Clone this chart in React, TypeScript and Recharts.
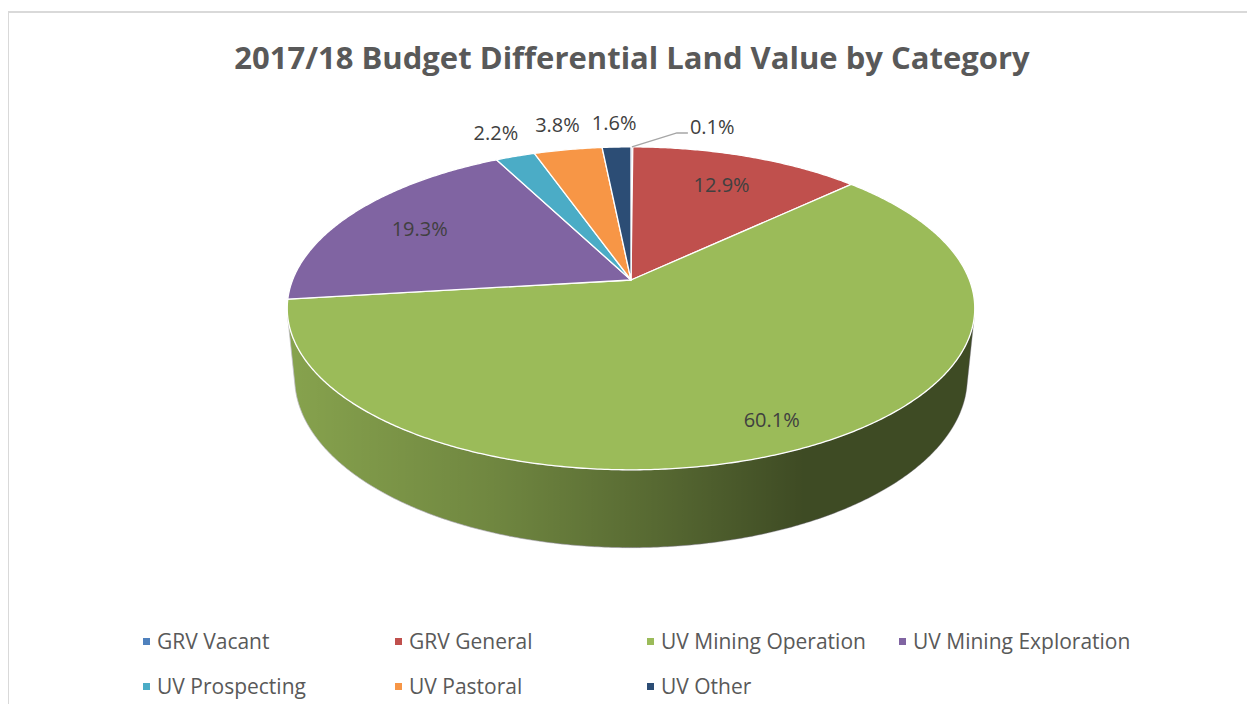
import React from 'react'
import { PieChart, Pie, Cell, Legend } from 'recharts'

const CATEGORIES = [
  'GRV Vacant',
  'GRV General',
  'UV Mining Operation',
  'UV Mining Exploration',
  'UV Prospecting',
  'UV Pastoral',
  'UV Other',
]
const SHARES = [0.1, 12.9, 60.1, 19.3, 2.2, 3.8, 1.6]
const COLORS = ['#4F81BD', '#C0504D', '#9BBB59', '#8064A2', '#4BACC6', '#F79646', '#2C4D75']

const data = CATEGORIES.map((name, i) => ({ name, value: SHARES[i] }))

// perspective "3D pie" projection (tilt ~27deg)
const F = 1709
const D = 5.05
const S = 0.4624
const C = Math.sqrt(1 - S * S)
const H = 0.233

function project(cx: number, cy: number, deg: number, r: number, level: number) {
  const t = (deg * Math.PI) / 180
  const X = r * Math.cos(t)
  const Z = r * Math.sin(t)
  const Y = -H * level
  const yc = Z * S + Y * C
  const zc = D + Z * C - Y * S
  return [cx + (F * X) / zc, cy - (F * yc) / zc]
}

function arcPoints(cx: number, cy: number, a1: number, a2: number, level: number) {
  const n = Math.max(2, Math.ceil(Math.abs(a2 - a1) / 0.5))
  const pts: number[][] = []
  for (let k = 0; k <= n; k++) {
    pts.push(project(cx, cy, a1 + ((a2 - a1) * k) / n, 1, level))
  }
  return pts
}

// side wall faces the viewer where 1 + D*C*sin(t) < 0
const VIS_LIMIT = (Math.asin(-1 / (D * C)) * 180) / Math.PI
const VIS_LO = -180 - VIS_LIMIT
const VIS_HI = VIS_LIMIT

function Slice3D(props: any) {
  const { cx, cy, startAngle, endAngle, fill, index } = props
  const hi = Math.max(startAngle, endAngle)
  const lo = Math.min(startAngle, endAngle)
  const top = arcPoints(cx, cy, startAngle, endAngle, 0)
  const topD =
    `M${cx},${cy} ` + top.map((p) => `L${p[0].toFixed(2)},${p[1].toFixed(2)}`).join(' ') + ' Z'

  let side: React.ReactNode = null
  const sHi = Math.min(hi, VIS_HI)
  const sLo = Math.max(lo, VIS_LO)
  if (sHi > sLo) {
    const up = arcPoints(cx, cy, sHi, sLo, 0)
    const down = arcPoints(cx, cy, sLo, sHi, 1)
    const d =
      up.map((p, k) => `${k === 0 ? 'M' : 'L'}${p[0].toFixed(2)},${p[1].toFixed(2)}`).join(' ') +
      ' ' +
      down.map((p) => `L${p[0].toFixed(2)},${p[1].toFixed(2)}`).join(' ') +
      ' Z'
    const gid = `shade-${index}`
    side = (
      <g>
        <defs>
          <linearGradient id={gid} gradientUnits="userSpaceOnUse" x1={cx - 345} y1={0} x2={cx + 345} y2={0}>
            <stop offset="0" stopColor="#000" stopOpacity={0.13} />
            <stop offset="0.3" stopColor="#000" stopOpacity={0.28} />
            <stop offset="0.55" stopColor="#000" stopOpacity={0.45} />
            <stop offset="0.75" stopColor="#000" stopOpacity={0.6} />
            <stop offset="1" stopColor="#000" stopOpacity={0.6} />
          </linearGradient>
        </defs>
        <path d={d} fill={fill} stroke="#cfcfcf" strokeWidth={1} />
        <path d={d} fill={`url(#${gid})`} />
      </g>
    )
  }

  return (
    <g>
      {side}
      <path d={topD} fill={fill} stroke="#ffffff" strokeWidth={1.3} strokeLinejoin="round" />
    </g>
  )
}

function renderLabel(props: any) {
  const { cx, cy, midAngle, percent, index } = props
  const text = `${(percent * 100).toFixed(1)}%`
  const style = { fontFamily: '"Open Sans"', fontSize: 20, fill: '#404040' }
  if (percent >= 0.05) {
    const r = percent > 0.5 ? 0.85 : 0.75
    const [x, y] = project(cx, cy, midAngle, r, 0)
    return (
      <text key={`l-${index}`} x={x} y={y} textAnchor="middle" dominantBaseline="central" style={style}>
        {text}
      </text>
    )
  }
  if (percent >= 0.01) {
    const [x, y] = project(cx, cy, midAngle, 1.2, 0)
    return (
      <text key={`l-${index}`} x={x} y={y - 3} textAnchor="middle" dominantBaseline="central" style={style}>
        {text}
      </text>
    )
  }
  const [sx, sy] = project(cx, cy, midAngle, 1.0, 0)
  const ex = sx + 45
  const ey = sy - 14
  return (
    <g key={`l-${index}`}>
      <polyline
        points={`${sx},${sy} ${ex},${ey} ${ex + 11},${ey}`}
        fill="none"
        stroke="#a6a6a6"
        strokeWidth={1.5}
      />
      <text x={ex + 13} y={ey - 6} textAnchor="start" dominantBaseline="central" style={style}>
        {text}
      </text>
    </g>
  )
}

function renderLegend() {
  return (
    <div style={{ position: 'relative', width: 1255, height: 712 }}>
      {CATEGORIES.map((name, i) => {
        const col = i % 4
        const row = Math.floor(i / 4)
        const left = 143 + col * 252
        const top = 641 + row * 45
        return (
          <div
            key={name}
            style={{
              position: 'absolute',
              left,
              top: top - 14,
              height: 28,
              display: 'flex',
              alignItems: 'center',
              whiteSpace: 'nowrap',
              fontFamily: '"Open Sans"',
              fontSize: 21,
              color: '#595959',
            }}
          >
            <span style={{ width: 7, height: 7, background: COLORS[i], marginRight: 7, display: 'inline-block' }} />
            {name}
          </div>
        )
      })}
    </div>
  )
}

export default function App() {
  return (
    <div
      style={{
        margin: -8,
        width: 1255,
        height: 712,
        position: 'relative',
        overflow: 'hidden',
        background: '#fff',
      }}
    >
      <div
        style={{
          position: 'absolute',
          left: 7,
          top: 11,
          width: 1300,
          height: 800,
          borderLeft: '2px solid #d9d9d9',
          borderTop: '2px solid #d9d9d9',
        }}
      />
      <div
        style={{
          position: 'absolute',
          left: 0,
          width: 1264,
          top: 36,
          textAlign: 'center',
          fontFamily: '"Open Sans"',
          fontWeight: 700,
          fontSize: 31,
          lineHeight: '42px',
          color: '#595959',
        }}
      >
        2017/18 Budget Differential Land Value by Category
      </div>
      <div style={{ position: 'absolute', left: 0, top: 0 }}>
        <PieChart width={1255} height={712} margin={{ top: 0, right: 0, bottom: 0, left: 0 }}>
          <Pie
            data={data}
            dataKey="value"
            nameKey="name"
            cx={631}
            cy={280}
            outerRadius={344}
            startAngle={90}
            endAngle={-270}
            stroke="none"
            shape={Slice3D}
            inactiveShape={Slice3D}
            activeShape={Slice3D}
            label={renderLabel}
            labelLine={false}
            isAnimationActive={false}
          >
            {data.map((entry, index) => (
              <Cell key={`cell-${index}`} fill={COLORS[index % COLORS.length]} />
            ))}
          </Pie>
          <Legend
            content={renderLegend}
            wrapperStyle={{ position: 'absolute', left: 0, top: 0, width: 1255, height: 712 }}
          />
        </PieChart>
      </div>
    </div>
  )
}
